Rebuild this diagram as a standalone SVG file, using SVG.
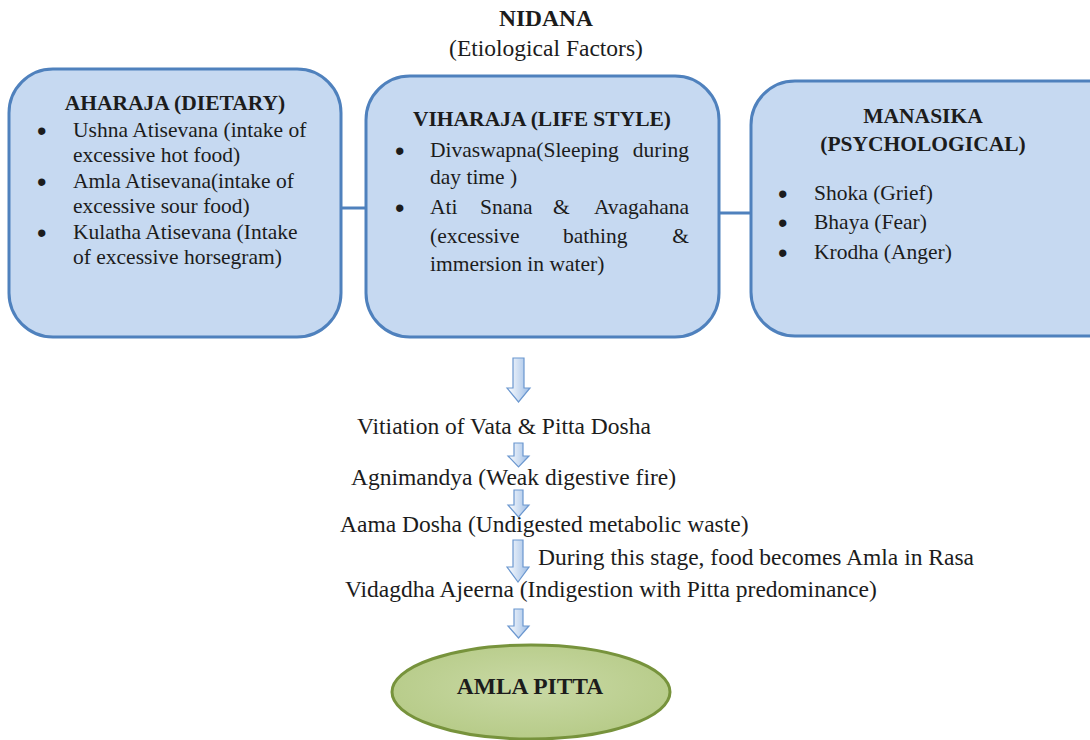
<svg xmlns="http://www.w3.org/2000/svg" width="1090" height="740" viewBox="0 0 1090 740" font-family="'Liberation Serif', 'Times New Roman', serif">
<defs>
<style>
text{font-family:'Liberation Serif','Times New Roman',serif;fill:#1c1c1c}
.t{font-size:21.5px}
.b{font-weight:bold}
.f{font-size:23.5px}
.bu{font-family:'Liberation Sans',Arial,sans-serif;font-size:27px}
.box{fill:#c6d9f1;stroke:#4f81bd;stroke-width:3}
.con{stroke:#4f81bd;stroke-width:3;fill:none}
.arr{fill:url(#ag);stroke:#6b97cf;stroke-width:1.2}
</style>
<linearGradient id="ag" x1="0" y1="0" x2="1" y2="0">
<stop offset="0" stop-color="#ffffff"/>
<stop offset="1" stop-color="#9dbde6"/>
</linearGradient>
<radialGradient id="eg" cx="0.5" cy="0.45" r="0.6">
<stop offset="0" stop-color="#c9d9a5"/>
<stop offset="1" stop-color="#b5ca86"/>
</radialGradient>
</defs>
<rect width="1090" height="740" fill="#ffffff"/>

<g id="title">
<text class="b f" x="546" y="26" text-anchor="middle">NIDANA</text>
<text class="f" x="546" y="56" text-anchor="middle">(Etiological Factors)</text>
</g>

<g id="connectors">
<line class="con" x1="336" y1="208" x2="367" y2="208"/>
<line class="con" x1="718" y1="213" x2="752" y2="213"/>
</g>

<g id="aharaja">
<rect class="box" x="9" y="69" width="332" height="268" rx="44"/>
<text class="t b" x="175" y="110" text-anchor="middle">AHARAJA (DIETARY)</text>
<text class="bu" x="37" y="140">•</text><text class="t" x="73" y="137">Ushna Atisevana (intake of</text>
<text class="t" x="73" y="162">excessive hot food)</text>
<text class="bu" x="37" y="191">•</text><text class="t" x="73" y="188">Amla Atisevana(intake of</text>
<text class="t" x="73" y="213">excessive sour food)</text>
<text class="bu" x="37" y="242">•</text><text class="t" x="73" y="239">Kulatha Atisevana (Intake</text>
<text class="t" x="73" y="264">of excessive horsegram)</text>
</g>

<g id="viharaja">
<rect class="box" x="366" y="76" width="353" height="261" rx="44"/>
<text class="t b" x="542" y="126" text-anchor="middle">VIHARAJA (LIFE STYLE)</text>
<text class="bu" x="395" y="160">•</text>
<text class="t" x="430" y="157">Divaswapna(Sleeping</text><text class="t" x="689" y="157" text-anchor="end">during</text>
<text class="t" x="430" y="184">day time )</text>
<text class="bu" x="395" y="217">•</text>
<text class="t" x="430" y="214">Ati</text><text class="t" x="480" y="214">Snana</text><text class="t" x="553" y="214">&amp;</text><text class="t" x="689" y="214" text-anchor="end">Avagahana</text>
<text class="t" x="430" y="243">(excessive</text><text class="t" x="563" y="243">bathing</text><text class="t" x="689" y="243" text-anchor="end">&amp;</text>
<text class="t" x="430" y="271">immersion in water)</text>
</g>

<g id="manasika">
<rect class="box" x="751" y="81" width="380" height="255" rx="44"/>
<text class="t b" x="923" y="123" text-anchor="middle">MANASIKA</text>
<text class="t b" x="923" y="151" text-anchor="middle">(PSYCHOLOGICAL)</text>
<text class="bu" x="778" y="203">•</text><text class="t" x="814" y="200">Shoka (Grief)</text>
<text class="bu" x="778" y="232">•</text><text class="t" x="814" y="229">Bhaya (Fear)</text>
<text class="bu" x="778" y="262">•</text><text class="t" x="814" y="259">Krodha (Anger)</text>
</g>

<g id="arrows">
<path class="arr" d="M513,358 H524 V388 H530 L518.5,402 L507,388 H513 Z"/>
<path class="arr" d="M514,443 H523 V456 H529 L518.5,467 L508,456 H514 Z"/>
<path class="arr" d="M514,490 H523 V505 H529 L518.5,517 L508,505 H514 Z"/>
<path class="arr" d="M513,540 H523 V567 H529 L518,582 L507,567 H513 Z"/>
<path class="arr" d="M514,609 H523 V626 H529 L518.5,638 L508,626 H514 Z"/>
</g>

<g id="flow">
<text class="f" x="357" y="434">Vitiation of Vata &amp; Pitta Dosha</text>
<text class="f" x="351" y="485">Agnimandya (Weak digestive fire)</text>
<text class="f" x="340" y="532">Aama Dosha (Undigested metabolic waste)</text>
<text class="f" x="538" y="565">During this stage, food becomes Amla in Rasa</text>
<text class="f" x="345" y="597">Vidagdha Ajeerna (Indigestion with Pitta predominance)</text>
</g>

<g id="amlapitta">
<ellipse cx="531" cy="692" rx="139" ry="47" fill="url(#eg)" stroke="#77933c" stroke-width="3"/>
<text class="b f" x="530" y="694" text-anchor="middle">AMLA PITTA</text>
</g>
</svg>
